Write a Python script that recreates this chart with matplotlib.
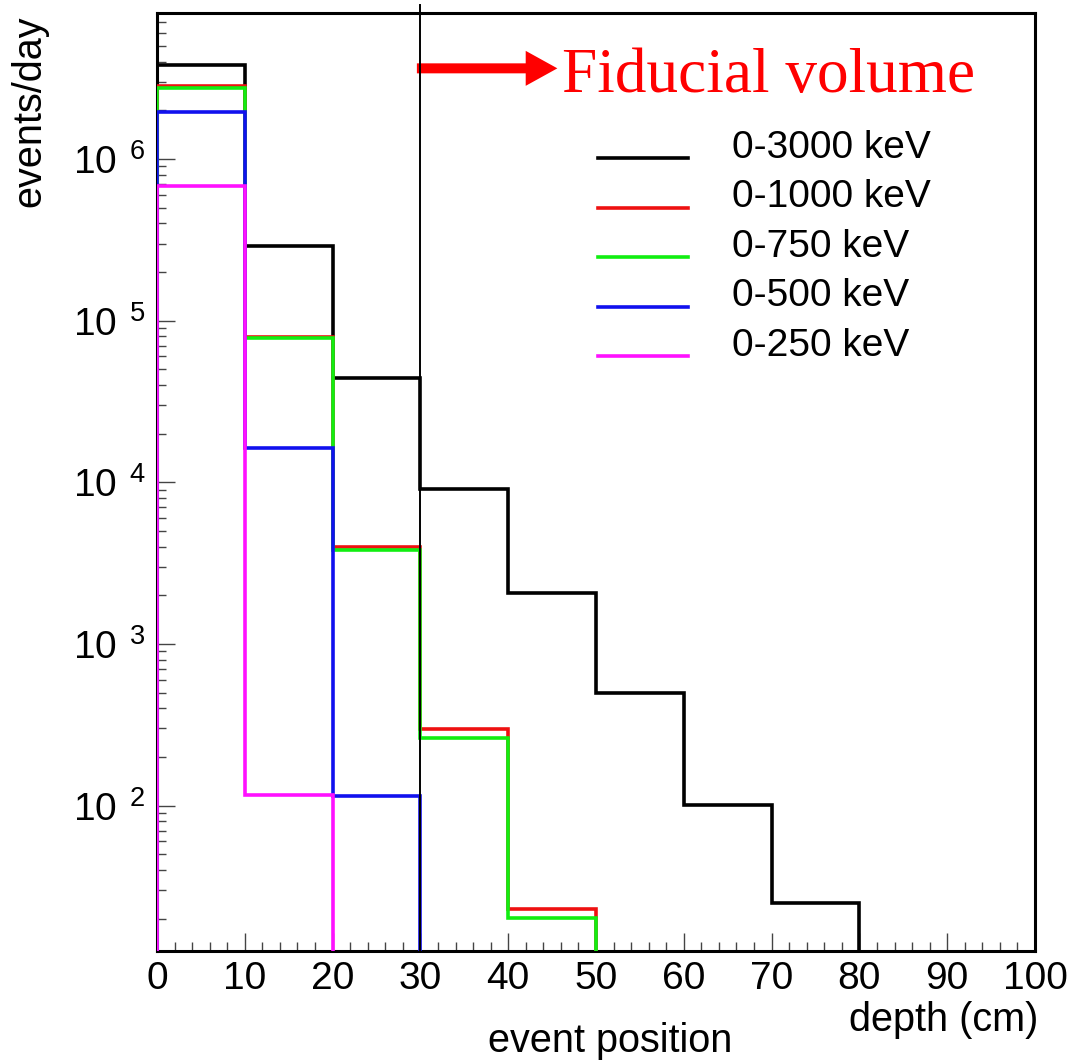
import math
import matplotlib
matplotlib.use("Agg")
import matplotlib.pyplot as plt
from matplotlib.ticker import FixedLocator, LogLocator, NullFormatter, FuncFormatter

plt.rcParams['font.family'] = ['Liberation Sans', 'DejaVu Sans']
plt.rcParams['mathtext.fontset'] = 'custom'
plt.rcParams['mathtext.rm'] = 'Liberation Sans'

# ---- data (events/day per 10 cm depth bin) ----
depth_edges = [0, 10, 20, 30, 40, 50, 60, 70, 80, 90, 100]
e_0_3000 = [3.82e6, 2.9e5, 4.42e4, 9.1e3, 2.06e3, 497, 101, 24.9, 0, 0]
e_0_1000 = [2.82e6, 7.9e4, 3.96e3, 298, 22.9, 0, 0, 0, 0, 0]
e_0_750 = [2.75e6, 7.8e4, 3.83e3, 262, 20.1, 0, 0, 0, 0, 0]
e_0_500 = [1.94e6, 1.64e4, 114, 0, 0, 0, 0, 0, 0, 0]
e_0_250 = [6.79e5, 117, 0, 0, 0, 0, 0, 0, 0, 0]
series_labels = ['0-3000 keV', '0-1000 keV', '0-750 keV', '0-500 keV', '0-250 keV']
series_colors = ['#000000', '#ee1111', '#11ee11', '#1111ee', '#ff11ff']
fiducial_depth = 30
x_ticks = [0, 10, 20, 30, 40, 50, 60, 70, 80, 90, 100]

fig = plt.figure(figsize=(10.79, 10.60), dpi=100)
ax = fig.add_axes([157 / 1079, 1 - 951 / 1060, 878 / 1079, 938 / 1060])
ax.set_yscale('log', nonpositive='clip')
ax.set_xlim(0, 100)
ax.set_ylim(12.6, 8.0e6)

series = [e_0_3000, e_0_1000, e_0_750, e_0_500, e_0_250]
handles = []
for vals, lab, col in zip(series, series_labels, series_colors):
    ax.stairs(vals, depth_edges, baseline=0, color=col, lw=2.6, zorder=3)
    h, = ax.plot([], [], color=col, lw=2.6, label=lab)
    handles.append(h)

# fiducial boundary
ax.axvline(fiducial_depth, ymin=0, ymax=1.009, color='black', lw=1.4,
           clip_on=False, zorder=4)
ax.annotate('', xy=(45.6, 0.941), xytext=(fiducial_depth - 0.4, 0.941),
            xycoords=('data', 'axes fraction'),
            arrowprops=dict(arrowstyle='simple,head_length=0.38,head_width=0.42,tail_width=0.12',
                            mutation_scale=60, color='#ff0000', lw=0, shrinkA=0, shrinkB=0))
ax.text(46.1, 0.9158, 'Fiducial volume', transform=ax.get_xaxis_transform(),
        color='#ff0000', fontsize=45.5, family='Liberation Serif', va='baseline', ha='left')

# ticks
ax.xaxis.set_major_locator(FixedLocator(x_ticks))
ax.xaxis.set_minor_locator(FixedLocator([v for v in range(0, 101, 2)]))
ax.yaxis.set_major_locator(LogLocator(base=10, numticks=20))
ax.yaxis.set_minor_locator(LogLocator(base=10, subs=range(2, 10), numticks=20))
ax.yaxis.set_minor_formatter(NullFormatter())
ax.yaxis.set_major_formatter(FuncFormatter(
    lambda v, p: r'$\mathregular{10^{\ \,%d}}$' % round(math.log10(v))))
ax.tick_params(which='both', direction='in', top=False, right=False, width=1.0, color='#444444')
ax.tick_params(which='major', length=13, labelsize=28)
ax.tick_params(which='minor', length=6.5)
ax.tick_params(axis='y', which='major', pad=8)
ax.tick_params(axis='x', which='major', pad=7)
for s in ax.spines.values():
    s.set_linewidth(2.2)

# labels
ax.text(-0.145, 0.998, 'events/day', transform=ax.transAxes, rotation=90,
        ha='center', va='top', fontsize=28.5)
fig.text(1038 / 1079, 1 - 1020 / 1060, 'depth (cm)', ha='right', va='center', fontsize=28.5)
fig.text(610 / 1079, 1 - 1041 / 1060, 'event position', ha='center', va='center', fontsize=28.5)

leg = ax.legend(handles=handles, loc='upper left', bbox_to_anchor=(598 / 1079, 1 - 130 / 1060),
                bbox_transform=fig.transFigure, frameon=False, fontsize=28,
                handlelength=2.31, handletextpad=1.13, labelspacing=0.345,
                borderpad=0, borderaxespad=0)
# legend lines sit slightly below the text centre, as in the original
for ln in leg.get_lines():
    ln.set_ydata([y - 10 for y in ln.get_ydata()])

fig.savefig('out.png', dpi=100)
